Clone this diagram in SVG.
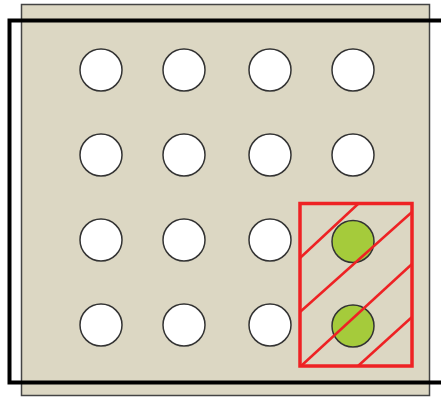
<svg xmlns="http://www.w3.org/2000/svg" width="441" height="397" viewBox="0 0 441 397">
<style>
.c{fill:#ffffff;stroke:#333333;stroke-width:1.5}
.g{fill:#a5cb3b;stroke:#333333;stroke-width:1.5}
.h{stroke:#ee2224;stroke-width:2.5;fill:none}
</style>
<rect x="0" y="0" width="441" height="397" fill="#ffffff"/>
<g id="board"><rect x="21.5" y="4.5" width="408" height="391" fill="#dcd7c3" stroke="#444444" stroke-width="1.5"/></g>
<g id="frame"><path d="M445 20.5 H9.5 V382.5 H445" fill="none" stroke="#000000" stroke-width="4"/></g>
<g id="holes">
<circle class="c" cx="101" cy="70" r="21"/><circle class="c" cx="184" cy="70" r="21"/><circle class="c" cx="270" cy="70" r="21"/><circle class="c" cx="353" cy="70" r="21"/>
<circle class="c" cx="101" cy="155" r="21"/><circle class="c" cx="184" cy="155" r="21"/><circle class="c" cx="270" cy="155" r="21"/><circle class="c" cx="353" cy="155" r="21"/>
<circle class="c" cx="101" cy="240" r="21"/><circle class="c" cx="184" cy="240" r="21"/><circle class="c" cx="270" cy="240" r="21"/>
<circle class="c" cx="101" cy="325" r="21"/><circle class="c" cx="184" cy="325" r="21"/><circle class="c" cx="270" cy="325" r="21"/>
<circle class="g" cx="353" cy="241.5" r="21"/><circle class="g" cx="353" cy="326" r="21"/>
</g>
<g id="zone">
<line class="h" x1="300" y1="258" x2="358" y2="204"/>
<line class="h" x1="300" y1="312" x2="412" y2="212"/>
<line class="h" x1="301" y1="366" x2="412" y2="264"/>
<line class="h" x1="358" y1="366" x2="412" y2="317"/>
<rect x="300" y="203.5" width="112" height="162.5" fill="none" stroke="#ee2224" stroke-width="3.5"/>
</g>
</svg>
